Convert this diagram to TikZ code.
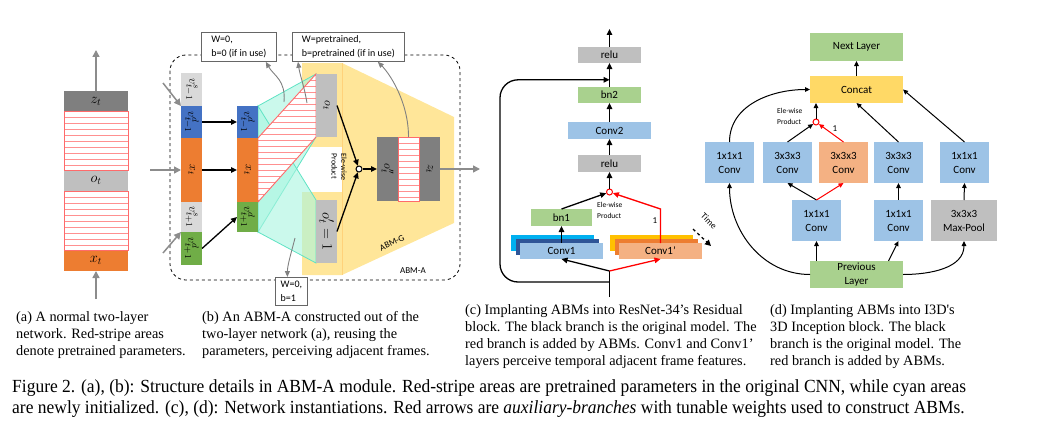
\documentclass[tikz,border=0pt]{standalone}
\usepackage{fontspec}
\setmainfont{Liberation Serif}
\newfontfamily\calibri{Carlito}
\newfontfamily\subfont{Liberation Serif}
\newfontfamily\capfont{Liberation Serif}[FakeStretch=0.945]
\usetikzlibrary{arrows.meta,calc,positioning,backgrounds}
\definecolor{cOrange}{HTML}{ED7D31}
\definecolor{cBlue}{HTML}{4472C4}
\definecolor{cGreen}{HTML}{70AD47}
\definecolor{cLight}{HTML}{D9D9D9}
\definecolor{cGray}{HTML}{BFBFBF}
\definecolor{cDark}{HTML}{7F7F7F}
\definecolor{cYellow}{HTML}{FFE699}
\definecolor{cCyan}{HTML}{A8F5E0}
\definecolor{cCyanEdge}{HTML}{5FE3C4}
\definecolor{cStripe}{HTML}{FF9090}
\definecolor{cStripeEdge}{HTML}{FF6B6B}
\definecolor{cGreenL}{HTML}{A9D18E}
\definecolor{cBlueL}{HTML}{9DC3E6}
\definecolor{cPeach}{HTML}{F4B183}
\definecolor{cConcat}{HTML}{FFD966}
\definecolor{cCyanB}{HTML}{00B0F0}
\definecolor{cNavy}{HTML}{2F5597}
\definecolor{cGold}{HTML}{FFC000}
\newcommand{\redstripes}[4]{%
  \begin{scope}
    \clip #1;
    \fill[white] (#2,0) rectangle (#3,436);
    \foreach \sy in {#4} \draw[stripeline] (#2,\sy) -- (#3,\sy);
  \end{scope}
  \draw[stripeedge] #1;}

\begin{document}
\begin{tikzpicture}[x=1pt, y=-1pt]
\tikzset{
  cell/.style={fill=#1, inner sep=0pt, outer sep=0pt, minimum width=21pt, font=\fontsize{13}{14}\selectfont},
  rot/.style={rotate=-90, inner sep=0pt, font=\fontsize{13}{14}\selectfont},
  blk/.style={fill=#1, inner sep=0pt, outer sep=0pt, align=center, font=\calibri\fontsize{11}{14}\selectfont},
  stripeline/.style={draw=cStripe, line width=0.9pt},
  stripeedge/.style={draw=cStripeEdge, line width=0.9pt},
  cyanfill/.style={fill=cCyan, fill opacity=0.6, draw=cCyanEdge, line width=0.8pt},
  garrow/.style={draw=black!45, line width=1.5pt, -{Triangle[length=7pt,width=7pt]}},
  thinarrow/.style={draw=black!50, line width=0.9pt, -{Triangle[length=6pt,width=5pt]}},
  karrow/.style={draw=black, line width=1.3pt, -{Triangle[length=6pt,width=5.5pt]}},
  rarrow/.style={draw=red, line width=1.3pt, -{Triangle[length=6pt,width=5.5pt]}},
  darrow/.style={draw=black, line width=1pt, -{Triangle[length=5pt,width=4.5pt]}},
  rdarrow/.style={draw=red, line width=1pt, -{Triangle[length=5pt,width=4.5pt]}},
  note/.style={draw=black!60, line width=0.8pt, fill=white, inner sep=2pt, align=left, anchor=north west, font=\calibri\fontsize{10}{14}\selectfont},
  prod/.style={circle, draw=#1, fill=white, line width=1pt, minimum size=6pt, inner sep=0pt},
  smalltxt/.style={inner sep=0pt, align=left, font=\calibri\fontsize{7.5}{11}\selectfont},
  tag/.style={inner sep=0pt, font=\calibri\fontsize{9}{10}\selectfont},
  subcap/.style={anchor=north west, align=left, inner sep=0pt, font=\subfont\fontsize{14.3}{17}\selectfont},
  figcap/.style={anchor=west, inner sep=0pt, font=\capfont\fontsize{18.5}{21}\selectfont},
}
\useasboundingbox (0,0) rectangle (1056,436);

\node[cell=cDark, minimum width=64pt, minimum height=20pt, font=\fontsize{14}{15}\selectfont] (az) at (96,101) {$z_t$};
\node[cell=cGray, minimum width=64pt, minimum height=21pt, font=\fontsize{14}{15}\selectfont] (ao) at (96,180.5) {$o_t$};
\node[cell=cOrange, minimum width=64pt, minimum height=21pt, font=\fontsize{14}{15}\selectfont] (ax) at (96,260.5) {$x_t$};
\redstripes{(az.south west) rectangle (ao.north east)}{64}{128}{111,117,...,170}
\redstripes{(ao.south west) rectangle (ax.north east)}{64}{128}{191,197,...,250}
\coordinate (aout) at (96,50);
\coordinate (ain) at (96,299);
\draw[garrow] (az.north) -- (aout);
\draw[garrow] (ain) -- (ax.south);

\node[cell=cLight, minimum height=33pt, label={[rot]center:$v^s_{t-1}$}] (ls1) at (191.5,89.5) {};
\node[cell=cBlue, minimum height=32pt, below=0pt of ls1, label={[rot]center:$v^d_{t-1}$}] (ld1) {};
\node[cell=cOrange, minimum height=64pt, below=0pt of ld1, label={[rot]center:$x_t$}] (lx) {};
\node[cell=cLight, minimum height=30pt, below=0pt of lx, label={[rot]center:$v^s_{t+1}$}] (ls2) {};
\node[cell=cGreen, minimum height=33pt, below=0pt of ls2, label={[rot]center:$v^d_{t+1}$}] (ld2) {};
\node[cell=cBlue, minimum height=32pt, label={[rot]center:$v^d_{t-1}$}] (md1) at (247.5,122) {};
\node[cell=cOrange, minimum height=64pt, below=0pt of md1, label={[rot]center:$x_t$}] (mx) {};
\node[cell=cGreen, minimum height=30pt, below=0pt of mx, label={[rot]center:$v^d_{t+1}$}] (md2) {};
\node[cell=cGray, minimum height=63pt, label={[rot]center:$o_t$}] (ot) at (326.5,105.5) {};
\node[cell=cGray, minimum height=63pt, label={[rot, font=\fontsize{15}{16}\selectfont]center:$o'_t=1$}] (op) at (326.5,231.5) {};
\node[cell=cDark, minimum height=64pt, label={[rot]center:$o''_t$}] (oo) at (387.5,169) {};
\node[cell=white, minimum height=64pt, right=0pt of oo] (os) {};
\node[cell=cDark, minimum height=64pt, right=0pt of os, label={[rot]center:$z_t$}] (zb) {};
\node[prod=black] (pb) at (359,169) {};
\node[rot, align=left, font=\calibri\fontsize{8}{9.5}\selectfont] (ew) at (339,167) {Ele-wise\\Product};
\node[note, minimum width=75pt, minimum height=29pt] (w0) at (201,32) {W=0,\\b=0 (if in use)};
\node[note, minimum width=112pt, minimum height=29pt] (wp) at (292,32) {W=pretrained,\\b=pretrained (if in use)};
\node[note, minimum width=32pt, minimum height=28pt] (w1) at (275,277) {W=0,\\b=1};
\node[tag, rotate=25] (abmg) at (392,243) {ABM-G};
\node[tag] (abma) at (413,271) {ABM-A};
\begin{scope}[on background layer]
  \draw[dashed, line width=0.8pt, rounded corners=16pt] (170,55) rectangle (460,280);
  \fill[cYellow] (302,63) -- (342,63) -- (454,117) -- (454,223) -- (342,275) -- (302,275) -- cycle;
  \draw[cYellow!80!orange, line width=0.5pt] (342,63) -- (342,275);
  \fill[white] (302,147) rectangle (342,192);
  \filldraw[cyanfill] (md1.north east) -- (ot.north west) -- (ot.south west) -- (md2.south east) -- cycle;
  \filldraw[cyanfill] (md1.north east) -- (op.north west) -- (op.south west) -- (md2.south east) -- cycle;
  \redstripes{(mx.north east) -- (ot.north west) -- (ot.south west) -- (mx.south east) -- cycle}{258}{316}{80,86,...,200}
\end{scope}
\redstripes{(os.north west) rectangle (os.south east)}{398}{419}{143,149,...,200}
\coordinate (bin1) at (163,83);
\coordinate (bin2) at (150,170);
\coordinate (bin3) at (163,253);
\coordinate (bout) at (480,169);
\coordinate (cy1) at (284,102);
\coordinate (cy2) at (307,103);
\coordinate (cy4) at (295,238);
\draw[garrow] (bin1) -- (ld1.north west);
\draw[garrow] (bin2) -- (lx.west);
\draw[garrow] (bin3) -- (ld2.north west);
\draw[karrow] (ld1.east) -- (md1.west);
\draw[karrow] (lx.east) -- (mx.west);
\draw[karrow] (ld2.east) -- (md2.west);
\draw[karrow] (ot.east) -- (pb);
\draw[karrow] (op.east) -- (pb);
\draw[karrow] (pb) -- (oo.west);
\draw[garrow] (zb.east) -- (bout);
\draw[thinarrow] (cy1) .. controls +(2,-22) and +(8,14) .. ($(w0.south east)+(-11,0)$);
\draw[thinarrow] (cy2) .. controls +(-3,-18) and +(2,14) .. ($(wp.south west)+(6,0)$);
\draw[thinarrow] (os.north) .. controls +(0,-35) and +(12,12) .. ($(wp.south east)+(-27,0)$);
\draw[thinarrow] (cy4) .. controls +(-3,12) and +(0,-12) .. ($(w1.north)+(-4,0)$);

\node[blk=cGray, minimum width=63pt, minimum height=16pt] (relu2) at (609.5,55) {relu};
\node[blk=cGreenL, minimum width=63pt, minimum height=16pt] (bn2) at (609.5,95) {bn2};
\node[blk=cBlueL, minimum width=83pt, minimum height=17pt] (conv2) at (609.5,130.5) {Conv2};
\node[blk=cGray, minimum width=63pt, minimum height=17pt] (relu1) at (609.5,163.5) {relu};
\node[prod=red] (pc) at (609.5,192) {};
\node[blk=cGreenL, minimum width=61pt, minimum height=17pt] (bn1) at (561.5,217.5) {bn1};
\node[blk=cCyanB, minimum width=83pt, minimum height=16pt] (c1a) at (552.5,243) {};
\node[blk=cNavy, minimum width=83pt, minimum height=16pt] (c1b) at (557,247) {};
\node[blk=cBlueL, minimum width=83pt, minimum height=16pt] (c1) at (561.5,251) {Conv1};
\node[blk=cGold, minimum width=83pt, minimum height=16pt] (c2a) at (651.5,243) {};
\node[blk=cOrange, minimum width=83pt, minimum height=16pt] (c2b) at (656,247) {};
\node[blk=cPeach, minimum width=83pt, minimum height=16pt] (c2) at (660.5,251) {Conv1’};
\node[smalltxt, anchor=north west] (ewc) at (597,202) {Ele-wise\\Product};
\node[tag] (onec) at (655,221) {1};
\node[tag, rotate=-45] (time) at (709,221) {Time};
\coordinate (ctop) at (609.5,29);
\coordinate (cin) at (609.5,297);
\coordinate (cfork) at (609.5,271);
\coordinate (cskip) at (609.5,282);
\coordinate (cjoin) at ($(bn2.north)!0.3!(relu2.south)$);
\coordinate (t1) at (693,229);
\coordinate (t2) at (711,246);
\draw[karrow] (relu2.north) -- (ctop);
\draw[karrow] (bn2.north) -- (relu2.south);
\draw[karrow] (conv2.north) -- (bn2.south);
\draw[karrow] (relu1.north) -- (conv2.south);
\draw[karrow] (pc.north) -- (relu1.south);
\draw[karrow] (bn1.north) -- (pc);
\draw[karrow] (c1.north) -- (bn1.south);
\draw[rarrow] (c2.north) -- ++(0,-34) -- (pc);
\draw[line width=1.3pt] (cin) -- (cfork);
\draw[karrow] (cfork) -- (c1.south);
\draw[rarrow] (cfork) -- (c2.south);
\draw[karrow, rounded corners=18pt] (cskip) -- ++(-109.5,0) |- (cjoin);
\draw[dashed, line width=1.3pt, -{Triangle[length=6pt,width=6pt]}] (t1) -- (t2);

\node[blk=cGreenL, minimum width=93pt, minimum height=28pt] (next) at (856.5,47) {Next Layer};
\node[blk=cConcat, minimum width=93pt, minimum height=27pt] (concat) at (856.5,89.5) {Concat};
\node[blk=cBlueL, minimum width=49pt, minimum height=41pt] (ra) at (729.5,162.5) {1x1x1\\Conv};
\node[blk=cBlueL, minimum width=49pt, minimum height=41pt] (rb) at (787.5,162.5) {3x3x3\\Conv};
\node[blk=cPeach, minimum width=49pt, minimum height=41pt] (rc) at (843.5,162.5) {3x3x3\\Conv};
\node[blk=cBlueL, minimum width=49pt, minimum height=41pt] (rd) at (898.5,162.5) {3x3x3\\Conv};
\node[blk=cBlueL, minimum width=49pt, minimum height=41pt] (re) at (964.5,162.5) {1x1x1\\Conv};
\node[blk=cBlueL, minimum width=49pt, minimum height=41pt] (qa) at (816.5,220.5) {1x1x1\\Conv};
\node[blk=cBlueL, minimum width=49pt, minimum height=41pt] (qb) at (898.5,220.5) {1x1x1\\Conv};
\node[blk=cGray, minimum width=66pt, minimum height=41pt] (pool) at (964,220.5) {3x3x3\\Max-Pool};
\node[blk=cGreenL, minimum width=93pt, minimum height=27pt] (prev) at (856.5,274.5) {Previous\\Layer};
\node[prod=red] (pd) at (816,122) {};
\node[smalltxt, anchor=north west] (ewd) at (777,108) {Ele-wise\\Product};
\node[tag] (oned) at (835,129) {1};
\draw[darrow] (concat.north) -- (next.south);
\draw[darrow] (pd.north) -- (pd |- concat.south);
\draw[darrow] (rb.north) -- (pd);
\draw[rdarrow] (rc.north) -- (pd);
\draw[darrow] (rd.north) -- (concat.south);
\draw[darrow] (re.north) -- (concat.east);
\draw[darrow] (ra.north) to[out=90, in=180] (concat.west);
\draw[darrow] (qa.north) -- (rb.south);
\draw[rdarrow] (qa.north) -- (rc.south);
\draw[darrow] (qb.north) -- (rd.south);
\draw[darrow] (pool.north) -- (re.south);
\draw[darrow] (prev.north -| qa) -- (qa.south);
\draw[darrow] ($(prev.north)+(32,0)$) -- (qb.south);
\draw[darrow] (prev.east) to[out=0, in=-90] (pool.south);
\draw[darrow] (prev.west) to[out=180, in=-90] (ra.south);

\node[subcap] (capa) at (16,311) {(a) A normal two-layer\\network. Red-stripe areas\\denote pretrained parameters.};
\node[subcap] (capb) at (202,311) {(b) An ABM-A constructed out of the\\two-layer network (a), reusing the\\parameters, perceiving adjacent frames.};
\node[subcap] (capc) at (465,304) {(c) Implanting ABMs into ResNet-34’s Residual\\block. The black branch is the original model. The\\red branch is added by ABMs. Conv1 and Conv1’\\layers perceive temporal adjacent frame features.};
\node[subcap] (capd) at (770,304) {(d) Implanting ABMs into I3D's\\3D Inception block. The black\\branch is the original model. The\\red branch is added by ABMs.};
\node[figcap] (fig1) at (12,388) {Figure 2. (a), (b): Structure details in ABM-A module. Red-stripe areas are pretrained parameters in the original CNN, while cyan areas};
\node[figcap] (fig2) at (12,409) {are newly initialized. (c), (d): Network instantiations. Red arrows are \textit{auxiliary-branches} with tunable weights used to construct ABMs.};
\end{tikzpicture}
\end{document}
